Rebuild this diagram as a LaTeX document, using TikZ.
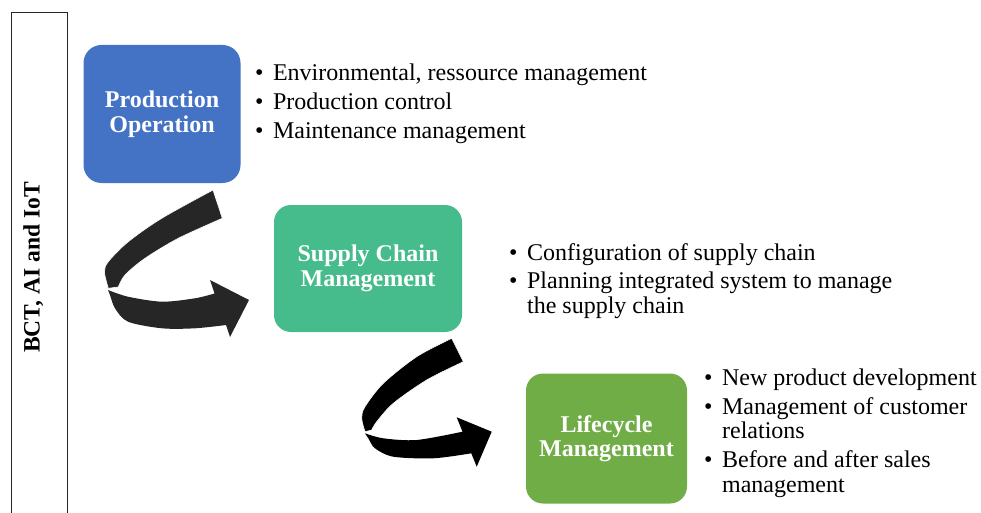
\documentclass[tikz,border=0pt]{standalone}
\usepackage{fontspec}
\setmainfont{Liberation Serif}
\usepackage{tikz}
\usetikzlibrary{positioning}
\definecolor{prodblue}{HTML}{4472C4}
\definecolor{supplygreen}{HTML}{46BC8C}
\definecolor{lifegreen}{HTML}{70AD47}
\definecolor{ribbongray}{HTML}{262626}
\tikzset{
    stage/.style = {rectangle, rounded corners=18pt, align=center, inner sep=0pt, text=white, font=\fontsize{24}{24.5}\selectfont\bfseries},
    bullets/.style = {anchor=base west, inner sep=0pt, font=\fontsize{24}{24.5}\selectfont},
    sidebar/.style = {draw=black!85, line width=0.8pt},
    sidelabel/.style = {rotate=90, anchor=base, inner sep=0pt, font=\fontsize{23.5}{24}\selectfont\bfseries},
    ribbon/.style = {fill=#1},
    ribbontop/.style = {fill=#1, draw=white, line width=0.6pt}
}

\begin{document}
\begin{tikzpicture}[x=1pt,y=-1pt]
\useasboundingbox (0,0) rectangle (981,513);
%
\draw[sidebar] (11,12) rectangle (67,530);
\node[sidelabel] at (39.5,267.5) (tech) {BCT, AI and IoT};
%
\node[stage,fill=prodblue,minimum width=157pt,minimum height=138pt] at (162,114) (prod) {Production\\Operation};
\node[stage,fill=supplygreen,minimum width=188pt,minimum height=127pt,rounded corners=17pt] at (368,268.5) (supply) {Supply Chain\\Management};
\node[stage,fill=lifegreen,minimum width=161pt,minimum height=130pt,rounded corners=17pt] at (606.5,438.5) (life) {Lifecycle\\Management};
%
\node[bullets] at (255,81) (prodlist) {\begin{tabular}[t]{@{}l@{\hspace{9.5pt}}l@{}}
\textbullet & Environmental, ressource management\\[4.2pt]
\textbullet & Production control\\[4.2pt]
\textbullet & Maintenance management
\end{tabular}};
\node[bullets] at (509,260) (supplylist) {\begin{tabular}[t]{@{}l@{\hspace{9.5pt}}l@{}}
\textbullet & Configuration of supply chain\\[4.2pt]
\textbullet & Planning integrated system to manage\\
 & the supply chain
\end{tabular}};
\node[bullets] at (704,385) (lifelist) {\begin{tabular}[t]{@{}l@{\hspace{9.5pt}}l@{}}
\textbullet & New product development\\[4.7pt]
\textbullet & Management of customer\\
 & relations\\[4.7pt]
\textbullet & Before and after sales\\
 & management
\end{tabular}};
%
% first ribbon arrow
\fill[ribbon=ribbongray] plot[smooth] coordinates {(108,290) (128,296.7) (162,301.7) (195,298.3) (214.5,293.5)}
  -- (210,280) -- (249,300) -- (230,337) -- (226,325)
  -- plot[smooth] coordinates {(226,325) (195,328.3) (162,328.3) (128,321.7) (115,308.3) (110,295) (108,290)}
  -- cycle;
\filldraw[ribbontop=ribbongray] (213,190) -- (222.3,218.3)
  -- plot[smooth] coordinates {(222.3,218.3) (178.3,238.3) (145,258.3) (125,275) (118.3,287)}
  -- (108.3,288.3)
  -- plot[smooth] coordinates {(108.3,288.3) (104.5,272) (108.3,261.7) (128.3,241.7) (161.7,218.3) (213,190)}
  -- cycle;
%
% second ribbon arrow
\fill[ribbon=black] plot[smooth] coordinates {(365,433.3) (383.3,438.3) (416.7,440) (462.5,431.7)}
  -- (456.7,417.3) -- (491.7,431.7) -- (476.7,466.7) -- (471.3,453.3)
  -- plot[smooth] coordinates {(471.3,453.3) (433.3,458.3) (393.3,456.7) (375,448.3) (368.3,438.3) (365,433.3)}
  -- cycle;
\filldraw[ribbontop=black] (451.7,338.3) -- (463.3,361.7)
  -- plot[smooth] coordinates {(463.3,361.7) (426.7,380) (393.3,403.3) (376.7,421.7) (371.7,430)}
  -- (365,431.7)
  -- plot[smooth] coordinates {(365,431.7) (361.7,418.3) (365,406.7) (383.3,383.3) (416.7,356.7) (451.7,338.3)}
  -- cycle;

\end{tikzpicture}
\end{document}
